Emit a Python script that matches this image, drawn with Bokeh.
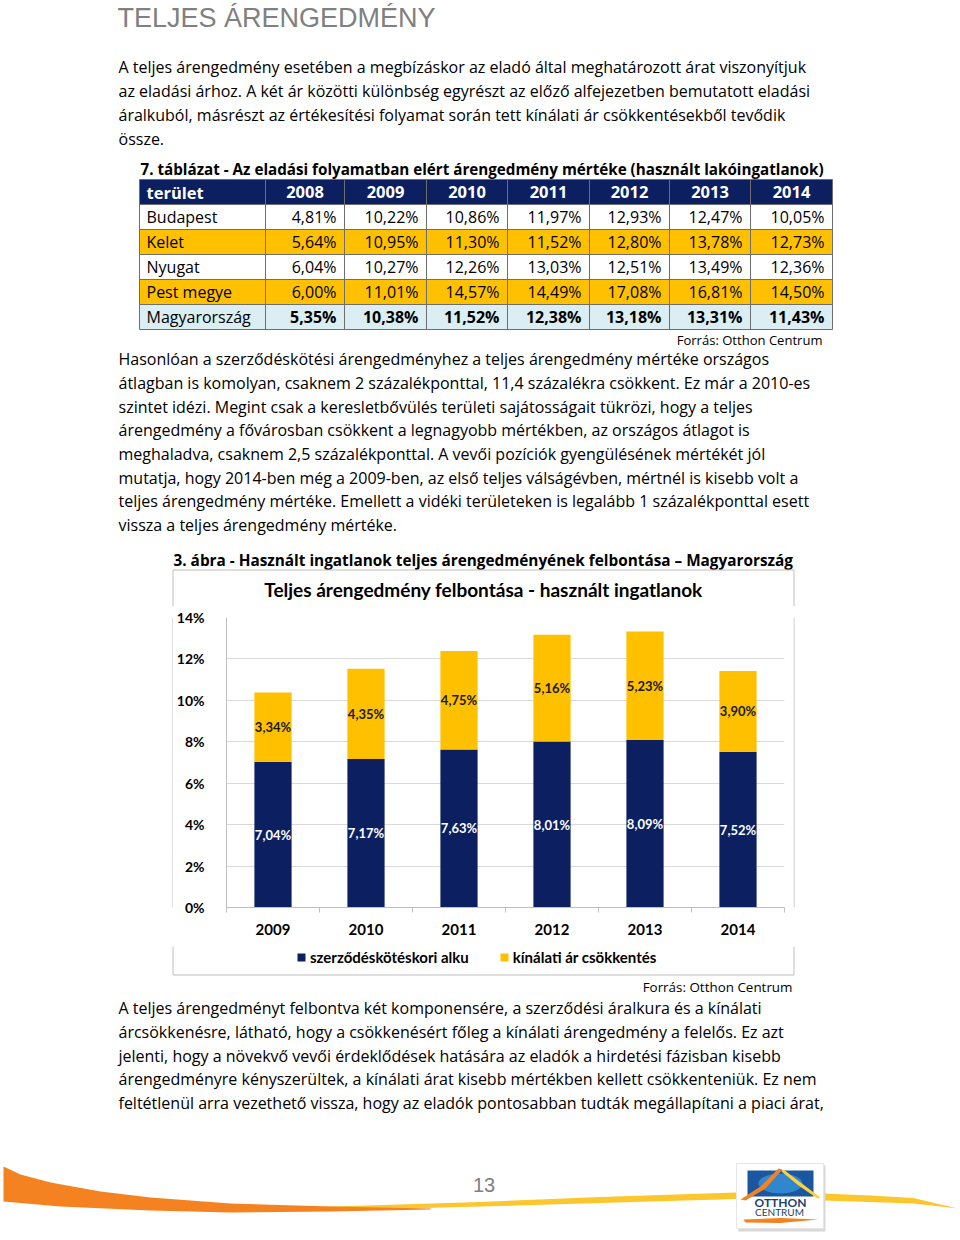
import subprocess
from bokeh.plotting import figure
from bokeh.models import Range1d, ColumnDataSource, FixedTicker, Legend, LegendItem
from bokeh.layouts import column, row
from bokeh.embed import file_html
from bokeh.resources import INLINE
from bokeh.core.properties import value

# ---------------- data ----------------
page_title = "TELJES ÁRENGEDMÉNY"
para1 = [
    "A teljes árengedmény esetében a megbízáskor az eladó által meghatározott árat viszonyítjuk",
    "az eladási árhoz. A két ár közötti különbség egyrészt az előző alfejezetben bemutatott eladási",
    "áralkuból, másrészt az értékesítési folyamat során tett kínálati ár csökkentésekből tevődik",
    "össze.",
]
table_caption = "7. táblázat - Az eladási folyamatban elért árengedmény mértéke (használt lakóingatlanok)"
table_corner = "terület"
table_years = ["2008", "2009", "2010", "2011", "2012", "2013", "2014"]
table_regions = ["Budapest", "Kelet", "Nyugat", "Pest megye", "Magyarország"]
budapest = [4.81, 10.22, 10.86, 11.97, 12.93, 12.47, 10.05]
kelet = [5.64, 10.95, 11.30, 11.52, 12.80, 13.78, 12.73]
nyugat = [6.04, 10.27, 12.26, 13.03, 12.51, 13.49, 12.36]
pest_megye = [6.00, 11.01, 14.57, 14.49, 17.08, 16.81, 14.50]
magyarorszag = [5.35, 10.38, 11.52, 12.38, 13.18, 13.31, 11.43]
source_text = "Forrás: Otthon Centrum"
para2 = [
    "Hasonlóan a szerződéskötési árengedményhez a teljes árengedmény mértéke országos",
    "átlagban is komolyan, csaknem 2 százalékponttal, 11,4 százalékra csökkent. Ez már a 2010-es",
    "szintet idézi. Megint csak a keresletbővülés területi sajátosságait tükrözi, hogy a teljes",
    "árengedmény a fővárosban csökkent a legnagyobb mértékben, az országos átlagot is",
    "meghaladva, csaknem 2,5 százalékponttal. A vevői pozíciók gyengülésének mértékét jól",
    "mutatja, hogy 2014-ben még a 2009-ben, az első teljes válságévben, mértnél is kisebb volt a",
    "teljes árengedmény mértéke. Emellett a vidéki területeken is legalább 1 százalékponttal esett",
    "vissza a teljes árengedmény mértéke.",
]
chart_caption = "3. ábra - Használt ingatlanok teljes árengedményének felbontása – Magyarország"
chart_title = "Teljes árengedmény felbontása - használt ingatlanok"
chart_years = ["2009", "2010", "2011", "2012", "2013", "2014"]
alku = [7.04, 7.17, 7.63, 8.01, 8.09, 7.52]
kinalati = [3.34, 4.35, 4.75, 5.16, 5.23, 3.90]
series_names = ["szerződéskötéskori alku", "kínálati ár csökkentés"]
y_tick_values = [0, 2, 4, 6, 8, 10, 12, 14]
y_tick_labels = ["0%", "2%", "4%", "6%", "8%", "10%", "12%", "14%"]
para3 = [
    "A teljes árengedményt felbontva két komponensére, a szerződési áralkura és a kínálati",
    "árcsökkenésre, látható, hogy a csökkenésért főleg a kínálati árengedmény a felelős. Ez azt",
    "jelenti, hogy a növekvő vevői érdeklődések hatására az eladók a hirdetési fázisban kisebb",
    "árengedményre kényszerültek, a kínálati árat kisebb mértékben kellett csökkenteniük. Ez nem",
    "feltétlenül arra vezethető vissza, hogy az eladók pontosabban tudták megállapítani a piaci árat,",
]
page_number = "13"

NAVY = "#0C1F60"
YELLOW = "#FFC000"
LIGHTBLUE = "#DAEEF3"
BODY = "Open Sans"
CHARTF = "Lato"

# ---------------- text measuring ----------------
try:
    from PIL import ImageFont
except Exception:
    ImageFont = None
_cache = {}


def _font(family, bold):
    key = (family, bold)
    if key in _cache:
        return _cache[key]
    f = None
    if ImageFont is not None:
        try:
            pat = family + (":bold" if bold else ":regular")
            r = subprocess.run(["fc-match", "-f", "%{file}", pat],
                               capture_output=True, text=True, timeout=10)
            path = r.stdout.strip()
            if path:
                f = ImageFont.truetype(path, 100)
                if bold:
                    try:
                        f.set_variation_by_name("Bold")
                    except Exception:
                        pass
        except Exception:
            f = None
    _cache[key] = f
    return f


def tw(s, family, size, bold=False):
    f = _font(family, bold)
    if f is None:
        return len(s) * size * (0.57 if bold else 0.52)
    try:
        return f.getlength(s) * size / 100.0
    except Exception:
        return len(s) * size * (0.57 if bold else 0.52)


def fit(s, family, max_size, width, bold=False):
    w = tw(s, family, max_size, bold)
    if w <= 0:
        return max_size
    return round(min(max_size, max_size * width / w), 2)


def fmt(v):
    return f"{v:.2f}%".replace(".", ",")


# ---------------- page figures (page pixel coordinates) ----------------
def page_fig(x0, x1, y0, y1):
    p = figure(width=int(x1 - x0), height=int(y1 - y0), x_range=Range1d(x0, x1),
               y_range=Range1d(y1, y0),
               output_backend="svg", toolbar_location=None, x_axis_type=None, y_axis_type=None,
               min_border=0, min_border_left=0, min_border_right=0, min_border_top=0,
               min_border_bottom=0, outline_line_color=None,
               background_fill_color="white", border_fill_color="white")
    return p


def put(p, xs, ys, texts, size, family=BODY, bold=False, color="#000000", align="left"):
    src = ColumnDataSource(dict(x=list(xs), y=list(ys), t=list(texts)))
    p.text(x="x", y="y", text="t", source=src, text_font=value(family),
           text_font_size=f"{size}px", text_font_style="bold" if bold else "normal",
           text_color=color, text_align=align, text_baseline="middle")


TEXT_L = 118
BODY_FS = 16
LINE_MID = 0.36 * BODY_FS
BOX_X0, BOX_X1, BOX_Y0, BOX_Y1 = 173, 793, 570, 974      # chart box
PLOT_Y0, PLOT_Y1 = 606, 946                               # vertical extent of the chart figure
FRAME_X0, FRAME_X1, FRAME_Y0, FRAME_Y1 = 224, 784, 617, 907
BORDER = "#BFBFBF"
PAGE_H = 1238

# ---- top part ----
top = page_fig(0, 960, 0, PLOT_Y0)
put(top, [117], [17.3], [page_title], 27, family="Liberation Sans", color="#808080")
put(top, [TEXT_L] * len(para1), [72.7 - LINE_MID + 23.8 * i for i in range(len(para1))],
    para1, BODY_FS)

cap_size = fit(table_caption, BODY, 15.5, 683, bold=True)
put(top, [140], [168], [table_caption], cap_size, bold=True)

col_edges = [139, 265, 344, 426, 507, 589, 669, 750, 832]
row_edges = [179, 204, 229, 254, 279, 304, 329]
row_fills = [NAVY, "#FFFFFF", YELLOW, "#FFFFFF", YELLOW, LIGHTBLUE]
top.quad(left=[col_edges[0]] * 6, right=[col_edges[-1]] * 6, top=row_edges[:-1],
         bottom=row_edges[1:], fill_color=row_fills, line_color=None)
top.segment(x0=[col_edges[0]] * len(row_edges), x1=[col_edges[-1]] * len(row_edges),
            y0=row_edges, y1=row_edges, line_color="#6E6E6E", line_width=1)
top.segment(x0=col_edges, x1=col_edges, y0=[row_edges[0]] * len(col_edges),
            y1=[row_edges[-1]] * len(col_edges), line_color="#6E6E6E", line_width=1)

row_mid = [(row_edges[i] + row_edges[i + 1]) / 2 for i in range(len(row_edges) - 1)]
put(top, [146], [row_mid[0]], [table_corner], 16.5, bold=True, color="#FFFFFF")
put(top, [(col_edges[j + 1] + col_edges[j + 2]) / 2 for j in range(len(table_years))],
    [row_mid[0]] * len(table_years), table_years, 16.5, bold=True, color="#FFFFFF",
    align="center")
table_values = [budapest, kelet, nyugat, pest_megye, magyarorszag]
for i, (reg, vals) in enumerate(zip(table_regions, table_values)):
    ym = row_mid[i + 1]
    put(top, [146], [ym], [reg], BODY_FS)
    put(top, [col_edges[j + 2] - 8 for j in range(len(vals))], [ym] * len(vals),
        [fmt(v) for v in vals], BODY_FS, bold=(reg == "Magyarország"), align="right")

put(top, [822], [339.5], [source_text], fit(source_text, BODY, 14, 146), align="right")
put(top, [TEXT_L] * len(para2), [364.5 - LINE_MID + 23.7 * i for i in range(len(para2))],
    para2, BODY_FS)
ccap_size = fit(chart_caption, BODY, 15.5, 620, bold=True)
put(top, [173], [559], [chart_caption], ccap_size, bold=True)
# chart box: top edge and upper part of side edges, chart title
top.segment(x0=[BOX_X0 - 0.5, BOX_X0 - 0.5, BOX_X1 + 0.5],
            x1=[BOX_X1 + 0.5, BOX_X0 - 0.5, BOX_X1 + 0.5],
            y0=[BOX_Y0 - 0.5, BOX_Y0 - 0.5, BOX_Y0 - 0.5],
            y1=[BOX_Y0 - 0.5, PLOT_Y0, PLOT_Y0], line_color=BORDER, line_width=1)
t_size = fit(chart_title, CHARTF, 19, 440, bold=True)
put(top, [483], [589], [chart_title], t_size, family=CHARTF, bold=True, align="center")

# ---- side strips carrying the chart box's left/right edges ----
left_strip = page_fig(0, BOX_X0, PLOT_Y0, PLOT_Y1)
left_strip.segment(x0=[BOX_X0 - 0.5], x1=[BOX_X0 - 0.5], y0=[PLOT_Y0], y1=[PLOT_Y1],
                   line_color=BORDER, line_width=1)
right_strip = page_fig(BOX_X1, 960, PLOT_Y0, PLOT_Y1)
right_strip.segment(x0=[BOX_X1 + 0.5], x1=[BOX_X1 + 0.5], y0=[PLOT_Y0], y1=[PLOT_Y1],
                    line_color=BORDER, line_width=1)

# ---- chart ----
x_pos = [i + 0.5 for i in range(len(chart_years))]
c = figure(width=BOX_X1 - BOX_X0, height=PLOT_Y1 - PLOT_Y0,
           x_range=Range1d(0, len(chart_years)),
           y_range=Range1d(y_tick_values[0], y_tick_values[-1]),
           output_backend="svg", toolbar_location=None,
           min_border_left=FRAME_X0 - BOX_X0, min_border_right=BOX_X1 - FRAME_X1,
           min_border_top=FRAME_Y0 - PLOT_Y0, min_border_bottom=PLOT_Y1 - FRAME_Y1,
           outline_line_color=None, background_fill_color="white", border_fill_color="white")
bsrc = ColumnDataSource(dict(x=x_pos, alku=alku, kin=kinalati))
bars = c.vbar_stack(["alku", "kin"], x="x", width=0.4, source=bsrc,
                    fill_color=[NAVY, YELLOW], line_color=None)

lab_size = fit("3,34%", CHARTF, 13, 38, bold=True)
lsrc = ColumnDataSource(dict(
    x=x_pos,
    y1=[a / 2 for a in alku], t1=[fmt(a) for a in alku],
    y2=[a + k / 2 for a, k in zip(alku, kinalati)], t2=[fmt(k) for k in kinalati]))
c.text(x="x", y="y1", text="t1", source=lsrc, text_font=value(CHARTF), text_font_style="bold",
       text_font_size=f"{lab_size}px", text_color="#FFFFFF", text_align="center",
       text_baseline="middle")
c.text(x="x", y="y2", text="t2", source=lsrc, text_font=value(CHARTF), text_font_style="bold",
       text_font_size=f"{lab_size}px", text_color="#1A1A1A", text_align="center",
       text_baseline="middle")

c.yaxis.ticker = FixedTicker(ticks=y_tick_values)
c.yaxis.major_label_overrides = {t: l for t, l in zip(y_tick_values, y_tick_labels)}
c.yaxis.major_tick_line_color = None
c.yaxis.minor_tick_line_color = None
c.yaxis.axis_line_color = BORDER
c.yaxis.major_label_standoff = 16
c.yaxis.major_label_text_font = CHARTF
c.yaxis.major_label_text_font_style = "bold"
c.yaxis.major_label_text_font_size = "14px"
c.yaxis.major_label_text_color = "#000000"

c.xaxis.ticker = FixedTicker(ticks=x_pos, minor_ticks=list(range(len(chart_years) + 1)))
c.xaxis.major_label_overrides = {x: y for x, y in zip(x_pos, chart_years)}
c.xaxis.major_tick_line_color = None
c.xaxis.minor_tick_line_color = BORDER
c.xaxis.minor_tick_in = 0
c.xaxis.minor_tick_out = 5
c.xaxis.axis_line_color = BORDER
c.xaxis.major_label_standoff = 10
c.xaxis.major_label_text_font = CHARTF
c.xaxis.major_label_text_font_style = "bold"
c.xaxis.major_label_text_font_size = "15px"
c.xaxis.major_label_text_color = "#000000"

c.xgrid.visible = False
c.ygrid.grid_line_color = "#D9D9D9"

# ---- bottom part (legend of the chart, source, text, footer) ----
bot = page_fig(0, 960, PLOT_Y1, PAGE_H)
bot.segment(x0=[BOX_X0 - 0.5, BOX_X0 - 0.5, BOX_X1 + 0.5],
            x1=[BOX_X1 + 0.5, BOX_X0 - 0.5, BOX_X1 + 0.5],
            y0=[BOX_Y1 + 0.5, PLOT_Y1, PLOT_Y1],
            y1=[BOX_Y1 + 0.5, BOX_Y1 + 0.5, BOX_Y1 + 0.5], line_color=BORDER, line_width=1)

# legend swatch renderers (a single zero-size bar each, so the legend gets a colour sample)
sw_navy = bot.vbar(x=[480], top=[PLOT_Y1 + 2], bottom=[PLOT_Y1 + 2], width=0,
                   fill_color=NAVY, line_color=None)
sw_yellow = bot.vbar(x=[480], top=[PLOT_Y1 + 2], bottom=[PLOT_Y1 + 2], width=0,
                     fill_color=YELLOW, line_color=None)
leg_size = fit(series_names[0], CHARTF, 15, 167, bold=True)
LEG_X, LEG_TOP, LEG_H = 296, 948, 18
legend = Legend(items=[LegendItem(label=series_names[0], renderers=[sw_navy]),
                       LegendItem(label=series_names[1], renderers=[sw_yellow])],
                location=(LEG_X, PAGE_H - LEG_TOP - LEG_H), orientation="horizontal",
                padding=0, margin=0, spacing=30,
                glyph_width=10, glyph_height=10, label_standoff=4, label_height=LEG_H,
                border_line_color=None, background_fill_alpha=0,
                label_text_font=CHARTF, label_text_font_style="bold",
                label_text_font_size=f"{leg_size}px", label_text_color="#000000")
bot.add_layout(legend)

put(bot, [792], [986.7], [source_text], fit(source_text, BODY, 14, 150), align="right")
put(bot, [TEXT_L] * len(para3), [1013.3 - LINE_MID + 23.8 * i for i in range(len(para3))],
    para3, BODY_FS)

# footer decoration (swoosh + logo)
DECOR = {
    "yellow": ([250, 350, 480, 600, 735, 823, 870, 913, 957, 913, 823, 735, 600, 480, 350, 250],
               [1208, 1205.5, 1201.5, 1196.5, 1192, 1193, 1195, 1197.5, 1208, 1203, 1200, 1198.5,
                1202.5, 1206, 1209.5, 1211]),
    "orange": ([3, 20, 50, 100, 150, 230, 330, 430, 430, 330, 230, 150, 60, 3],
               [1166, 1174, 1182, 1191, 1197, 1203, 1206, 1208, 1209, 1211, 1212, 1210, 1206, 1201]),
}
bot.patch(DECOR["yellow"][0], DECOR["yellow"][1], fill_color="#FCC62D", line_color=None)
bot.patch(DECOR["orange"][0], DECOR["orange"][1], fill_color="#F58220", line_color=None)
put(bot, [483.5], [1184.5], [page_number], 20, family="Liberation Sans", color="#808080",
    align="center")

bot.quad(left=[738], right=[825], top=[1165], bottom=[1231], fill_color="#D8D8D8", line_color=None)
bot.quad(left=[736], right=[823], top=[1163], bottom=[1228], fill_color="#FFFFFF", line_color="#E6E6E6")
bot.quad(left=[747], right=[813], top=[1170], bottom=[1196], fill_color="#1A57A0", line_color=None)
bot.ellipse(x=[780], y=[1183], width=[44], height=[20], fill_color="#3C9BE0", fill_alpha=0.7,
            line_color=None)
bot.patch([740, 760, 778, 782, 765, 745], [1199, 1186, 1168, 1169, 1188, 1200],
          fill_color="#F58220", line_color=None)
bot.patch([783, 800, 820, 817, 798, 781], [1169, 1182, 1197, 1198, 1185, 1171],
          fill_color="#FCD23C", line_color=None)
put(bot, [780], [1202], ["OTTHON"], fit("OTTHON", CHARTF, 12, 55, bold=True), family=CHARTF,
    bold=True, color="#1C3F6E", align="center")
put(bot, [779], [1211], ["CENTRUM"], fit("CENTRUM", CHARTF, 10, 53), family=CHARTF,
    color="#1C3F6E", align="center")
bot.patch([743, 780, 818, 780, 745], [1219, 1217.5, 1219, 1222.5, 1222],
          fill_color="#F58220", line_color=None)

layout = column(top, row(left_strip, c, right_strip), bot)
open("out.html", "w").write(file_html(layout, INLINE))
